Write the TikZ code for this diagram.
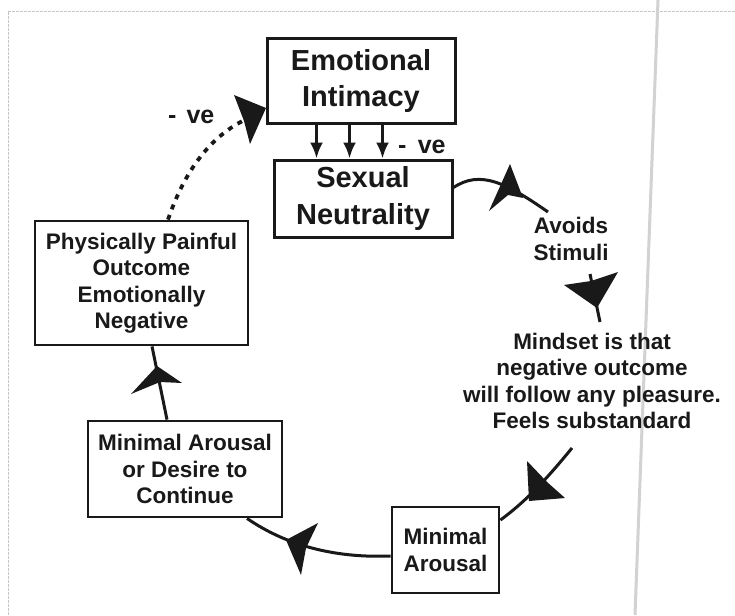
\documentclass[tikz,border=0pt]{standalone}
\usepackage{fontspec}
\setmainfont{Liberation Sans}
\usetikzlibrary{calc,arrows.meta}
\begin{document}
\begin{tikzpicture}[x=1pt,y=-1pt,
  bigbox/.style={draw=black!90, line width=3pt, rectangle, align=center, inner sep=0pt,
    font=\bfseries\fontsize{29}{36}\selectfont, text=black!90},
  smallbox/.style={draw=black!90, line width=2.8pt, rectangle, align=center, inner sep=0pt,
    font=\bfseries\fontsize{22.5}{26.5}\selectfont, text=black!90},
  plain/.style={align=center, inner sep=0pt,
    font=\bfseries\fontsize{22.5}{26.5}\selectfont, text=black!90},
  signlabel/.style={inner sep=0pt, font=\bfseries\fontsize{25}{30}\selectfont, text=black!90},
  flow/.style={draw=black!90, line width=3pt},
  dotflow/.style={draw=black!90, line width=3.8pt, dash pattern=on 5pt off 6pt},
  head/.style={fill=black!90}
]
% page extent
\useasboundingbox (0,0) rectangle (735,615);
\fill[white] (0,0) rectangle (735,615);

% faint page edges and fold
\draw[gray!45, line width=1pt, dash pattern=on 3pt off 1pt] (8,12) -- (735,12);
\draw[gray!45, line width=1pt, dash pattern=on 3pt off 1pt] (8,12) -- (8,615);
\draw[gray!35, line width=3pt] (658,0) -- (635,615);

% boxes
\node[bigbox, minimum width=188pt, minimum height=84pt] (EI) at (361,81) {Emotional\\Intimacy};
\node[bigbox, minimum width=178pt, minimum height=77pt] (SN) at (363,198.5) {Sexual\\Neutrality};
\node[smallbox, minimum width=213pt, minimum height=124pt] (PP) at (141.5,283)
  {Physically Painful\\Outcome\\Emotionally\\Negative};
\node[smallbox, minimum width=194pt, minimum height=96pt] (MD) at (185,469)
  {Minimal Arousal\\or Desire to\\Continue};
\node[smallbox, minimum width=107pt, minimum height=86pt] (MA) at (445.5,550)
  {Minimal\\Arousal};

% free-standing texts
\node[plain] (AV) at (571,239) {Avoids\\Stimuli};
\node[plain] (MS) at (592,381) {Mindset is that\\negative outcome\\will follow any pleasure.\\Feels substandard};
\node[signlabel, anchor=base west] (veR) at (398,153) {-\hspace{0.45em}ve};
\node[signlabel, anchor=base west] (veL) at (168,123) {-\hspace{0.4em}ve};

% three negative influences from intimacy to neutrality
\foreach \dx/\ex in {51/44, 84/77, 117/110}
  \draw[flow, -{Latex[length=16pt,width=13pt]}]
    ($(EI.south west)+(\dx,0)$) -- ($(SN.north west)+(\ex,0)$);

% connector points
\coordinate (avIn) at (548,212);
\coordinate (avOut) at (590,274);
\coordinate (msIn) at (600,322);
\coordinate (msOut) at (572,448);

% Sexual Neutrality -> Avoids Stimuli
\draw[flow] ($(SN.east)+(0,-11)$) .. controls (480,170) and (505,182) .. (avIn);
\fill[head] (510,164) -- (523,198) -- (508,195) -- (489,211) -- cycle;

% Avoids Stimuli -> Mindset
\draw[flow] (avOut) -- (msIn);
\fill[head] (564,285) -- (591,281) -- (618,272) -- (597,308) -- cycle;

% Mindset -> Minimal Arousal
\draw[flow] (msOut) .. controls (545,481) and (525,502) .. ($(MA.east)+(0,-30)$);
\fill[head] (529,501) -- (527,461) -- (547,482) -- (565,498) -- cycle;

% Minimal Arousal -> Minimal Arousal or Desire to Continue
\draw[flow] ($(MA.west)+(0,6)$) .. controls (340,558) and (290,548) .. ($(MD.south)+(62,0)$);
\fill[head] (286,540) -- (318,523) -- (306,548) -- (301,575) -- cycle;

% Minimal Arousal or Desire -> Physically Painful
\draw[flow] ($(MD.north)+(-18,0)$) -- ($(PP.south)+(10.5,0)$);
\fill[head] (157,366) -- (182,383) -- (160,382) -- (131,394) -- cycle;

% Physically Painful -> Emotional Intimacy (dashed)
\draw[dotflow] ($(PP.north)+(26.5,0)$) .. controls (185,170) and (210,138) .. ($(EI.west)+(-23,40)$);
\fill[head] (266,108) -- (250,144) -- (244,121) -- (234,95) -- cycle;
\end{tikzpicture}
\end{document}
